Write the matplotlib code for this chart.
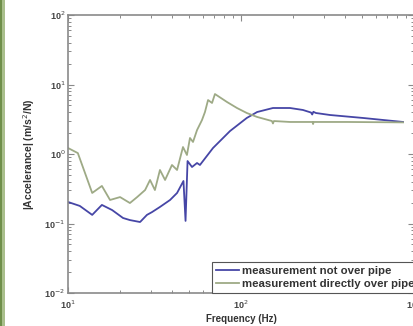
import matplotlib
matplotlib.use("Agg")
import matplotlib.pyplot as plt
from matplotlib.patches import Rectangle
from matplotlib.ticker import LogLocator, NullFormatter, FixedLocator

# Frequency response data (accelerance magnitude vs frequency)
freq_not_over = [10.0, 11.7, 13.8, 15.7, 18.0, 20.8, 22.8, 26.1, 28.6, 30.6, 34.0,
                 38.9, 42.7, 46.5, 47.8, 49.1, 52.1, 55.7, 57.9, 68.9, 86.4, 108,
                 124, 153, 192, 228, 254, 258, 262, 271, 327, 507, 864]
acc_not_over = [0.204, 0.179, 0.133, 0.185, 0.156, 0.120, 0.112, 0.105, 0.133, 0.146, 0.173,
                0.218, 0.275, 0.409, 0.109, 0.792, 0.650, 0.742, 0.695, 1.22, 2.14, 3.30,
                4.02, 4.59, 4.59, 4.30, 3.95, 3.70, 4.05, 3.89, 3.64, 3.30, 2.89]

freq_over = [10.0, 11.4, 13.8, 15.7, 17.5, 20.0, 22.8, 25.1, 27.9, 29.8, 31.8, 34.0,
             36.4, 39.9, 42.7, 46.2, 48.7, 50.7, 52.8, 55.7, 59.5, 61.9, 64.5, 68.0,
             70.7, 83.0, 94.8, 108, 124, 151, 153, 155, 192, 259, 261, 263, 410, 864]
acc_over = [1.22, 1.03, 0.275, 0.347, 0.218, 0.240, 0.197, 0.240, 0.303, 0.423, 0.303, 0.589,
            0.423, 0.695, 0.589, 1.26, 0.968, 1.70, 1.49, 2.21, 3.08, 4.02, 5.98, 5.42,
            7.29, 5.6, 4.59, 3.89, 3.41, 2.98, 2.75, 2.98, 2.89, 2.89, 2.70, 2.89, 2.89, 2.85]

labels = ["measurement not over pipe", "measurement directly over pipe"]
x_label = "Frequency (Hz)"
y_label = "|Accelerance| (m/s$^2$/N)"
x_ticks = [10, 100, 1000]
x_ticklabels = ["10$^1$", "10$^2$", "10$^3$"]
y_ticks = [1e-2, 1e-1, 1e0, 1e1, 1e2]
y_ticklabels = ["10$^{-2}$", "10$^{-1}$", "10$^0$", "10$^1$", "10$^2$"]

W, H = 413, 326
fig = plt.figure(figsize=(W / 100, H / 100), dpi=100)
fig.patch.set_facecolor("white")

# green edge strip on the left side
fig.patches.append(Rectangle((0, 0), 2 / W, 1, transform=fig.transFigure,
                             facecolor="#6f8f4a", edgecolor="none"))
fig.patches.append(Rectangle((2 / W, 0), 2.5 / W, 1, transform=fig.transFigure,
                             facecolor="#a9bf8c", edgecolor="none"))

left, right, top, bottom = 68, 414, 15, 293
ax = fig.add_axes([left / W, 1 - bottom / H, (right - left) / W, (bottom - top) / H])
ax.set_xscale("log")
ax.set_yscale("log")

blue = "#4646a6"
green = "#9eaa86"
ax.plot(freq_not_over, acc_not_over, color=blue, lw=1.3, label=labels[0])
ax.plot(freq_over, acc_over, color=green, lw=1.3, label=labels[1])

ax.set_xlim(10, 1000)
ax.set_ylim(1e-2, 1e2)

font = ["Liberation Sans", "DejaVu Sans"]
tick_col = "#444444"
ax.xaxis.set_major_locator(FixedLocator(x_ticks))
ax.set_xticklabels(x_ticklabels, family=font, fontsize=6.5, fontweight="bold", color=tick_col)
ax.yaxis.set_major_locator(FixedLocator(y_ticks))
ax.set_yticklabels(y_ticklabels, family=font, fontsize=6.5, fontweight="bold", color=tick_col)
for axis in (ax.xaxis, ax.yaxis):
    axis.set_minor_locator(LogLocator(base=10, subs=range(2, 10), numticks=20))
    axis.set_minor_formatter(NullFormatter())

spine_col = "#8a8a8a"
for s in ax.spines.values():
    s.set_color(spine_col)
    s.set_linewidth(1.2)
ax.tick_params(which="both", direction="in", top=True, right=True, colors=spine_col,
               labelcolor=tick_col)
ax.tick_params(which="major", length=4, width=0.8, pad=2)
ax.tick_params(axis="x", which="major", pad=4)
ax.tick_params(which="minor", length=2.5, width=0.7)

ax.set_xlabel(x_label, family=font, fontsize=7, fontweight="bold", color="#333333",
              labelpad=2)
ax.set_ylabel(y_label, family=font, fontsize=7.5, fontweight="bold", color="#333333",
              labelpad=5)

leg = ax.legend(loc="lower left", bbox_to_anchor=((212 - left) / (right - left), 0.0),
                borderaxespad=0, frameon=True, fancybox=False, framealpha=1,
                edgecolor="#555555", handlelength=2.0, handletextpad=0.3,
                labelspacing=0.25, borderpad=0.35,
                prop={"family": font, "size": 8.2, "weight": "bold"})
leg.get_frame().set_linewidth(0.8)
for t in leg.get_texts():
    t.set_color("#333333")

fig.savefig("out.png", dpi=100)
